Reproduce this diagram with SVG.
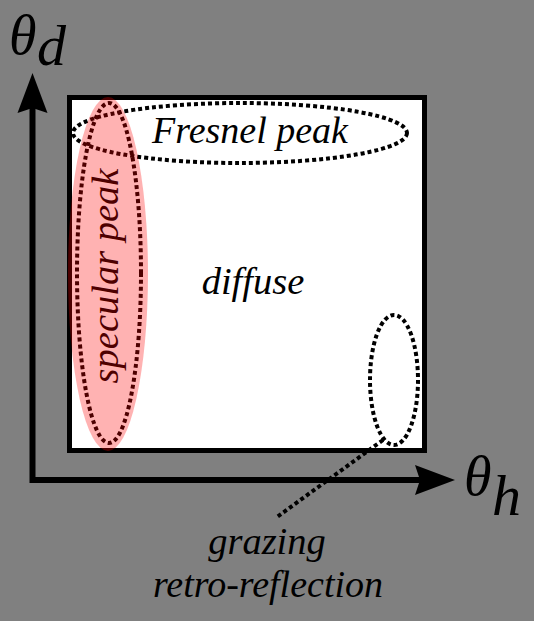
<svg xmlns="http://www.w3.org/2000/svg" width="534" height="621" viewBox="0 0 534 621">
<style>
.t{font-family:"Liberation Serif","Times New Roman",serif;font-style:italic;fill:#000}
.dot{fill:none;stroke:#000;stroke-width:4;stroke-dasharray:4 3}
</style>
<rect width="534" height="621" fill="#808080"/>
<g id="axes">
<path d="M32.5,105 V480 H425" fill="none" stroke="#000" stroke-width="6" stroke-linejoin="miter"/>
<polygon points="32.5,73 47.5,113 32.5,108 17.5,113" fill="#000"/>
<polygon points="455,480 415,495 420,480 415,465" fill="#000"/>
<text class="t" x="9" y="54" font-size="56">θ</text>
<text class="t" x="37" y="65" font-size="58">d</text>
<text class="t" x="464" y="495" font-size="56">θ</text>
<text class="t" x="492" y="515" font-size="58">h</text>
</g>
<g id="box">
<rect x="69.5" y="97.5" width="355" height="353" fill="#fff" stroke="#000" stroke-width="5"/>
</g>
<g id="diffuse">
<text class="t" x="253" y="294" font-size="38.5" text-anchor="middle">diffuse</text>
</g>
<g id="fresnel">
<ellipse class="dot" cx="240" cy="133" rx="167" ry="30"/>
<text class="t" x="250" y="143" font-size="38" text-anchor="middle">Fresnel peak</text>
</g>
<g id="specular">
<ellipse class="dot" cx="109" cy="273" rx="32" ry="170"/>
<text class="t" x="0" y="0" font-size="38.5" text-anchor="middle" transform="translate(118,276) rotate(-90)">specular peak</text>
<ellipse cx="108" cy="274" rx="40" ry="177" fill="#ff0000" fill-opacity="0.3"/>
</g>
<g id="retro">
<ellipse class="dot" cx="394" cy="380" rx="24" ry="65"/>
<text class="t" x="267" y="554" font-size="38.5" text-anchor="middle">grazing</text>
<text class="t" x="268" y="597" font-size="38" text-anchor="middle">retro-reflection</text>
</g>
<g id="connectors">
<line class="dot" x1="383" y1="440" x2="277" y2="517"/>
</g>
</svg>
